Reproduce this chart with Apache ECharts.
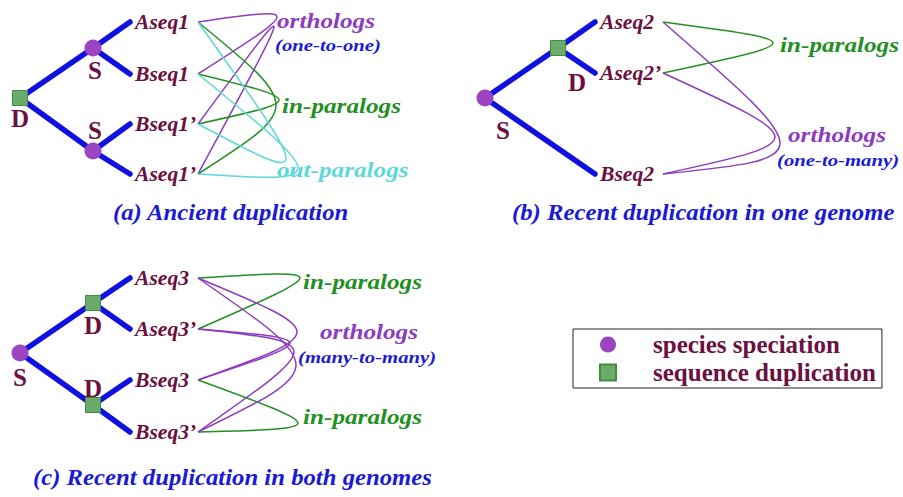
<!DOCTYPE html>
<html><head><meta charset="utf-8">
<script src="https://cdn.jsdelivr.net/npm/echarts@6/dist/echarts.min.js"></script>
<style>html,body{margin:0;padding:0;background:#fff}#c{width:903px;height:497px}</style>
</head><body><div id="c"></div>
<script>
// ---- diagram data (diagram units) ----
const speciationNodes = [['Sa1',93,48],['Sa2',93,151],['Sb',485,98],['Sc',20,353]];
const duplicationNodes = [['Da',20,98],['Db',558,48],['Dc1',93,303],['Dc2',93,405]];
const geneNodes = [
  ['Aseq1',130,22],['Bseq1',130,74],['Bseq1’',130,124],['Aseq1’',130,174],
  ['Aseq2',595,22],['Aseq2’',595,73],['Bseq2',595,174],
  ['Aseq3',130,278],['Aseq3’',130,329],['Bseq3',130,380],['Bseq3’',130,432]
];
const treeEdges = [
  ['Da','Sa1'],['Sa1','Aseq1'],['Sa1','Bseq1'],['Da','Sa2'],['Sa2','Bseq1’'],['Sa2','Aseq1’'],
  ['Sb','Db'],['Db','Aseq2'],['Db','Aseq2’'],['Sb','Bseq2'],
  ['Sc','Dc1'],['Dc1','Aseq3'],['Dc1','Aseq3’'],['Sc','Dc2'],['Dc2','Bseq3'],['Dc2','Bseq3’']
];
// [relation kind, gene, gene, tip x, tip y]
const relations = [
  ['ortholog','Aseq1','Bseq1',277,17],
  ['ortholog','Bseq1’','Aseq1’',274,27],
  ['inparalog','Aseq1','Aseq1’',276,105],
  ['inparalog','Bseq1','Bseq1’',279,100],
  ['outparalog','Aseq1','Bseq1’',286,158],
  ['outparalog','Bseq1','Aseq1’',298,168],
  ['inparalog','Aseq2','Aseq2’',773,43],
  ['ortholog','Aseq2','Bseq2',780,143],
  ['ortholog','Aseq2’','Bseq2',775,137],
  ['inparalog','Aseq3','Aseq3’',300,278],
  ['inparalog','Bseq3','Bseq3’',298,423],
  ['ortholog','Aseq3','Bseq3',297,332],
  ['ortholog','Aseq3','Bseq3’',296,365],
  ['ortholog','Aseq3’','Bseq3',290,343],
  ['ortholog','Aseq3’','Bseq3’',294,352]
];
const eventLabels = [['D',20,118],['S',95,70],['S',95,130],['D',577,82],['S',503,130],['S',20,377],['D',93,325],['D',93,388]];
const relationLabels = [
  ['orthologs','ortholog',277,21],['in-paralogs','inparalog',282,106],['out-paralogs','outparalog',277,170],
  ['in-paralogs','inparalog',780,45],['orthologs','ortholog',788,135],
  ['in-paralogs','inparalog',303,282],['orthologs','ortholog',320,332],['in-paralogs','inparalog',303,417]
];
const relationNotes = [['(one-to-one)',275,45],['(one-to-many)',777,160],['(many-to-many)',298,357]];
const panelTitles = [['(a) Ancient duplication',113,212],['(b) Recent duplication in one genome',512,212],['(c) Recent duplication in both genomes',33,477]];
const legendNames = ['species speciation','sequence duplication'];

// ---- styles ----
const relColor = {ortholog:'#8c3cbf', inparalog:'#239023', outparalog:'#5cd8d8'};
const MAROON = '#6b1040', BLUE = '#1a1ad6';
const textStyles = {
  gene:  {size:21, italic:true, color:MAROON, sx:1.03, align:'left'},
  event: {size:25, italic:false, color:MAROON, sx:1.0, align:'center'},
  note:  {size:17, italic:true, color:BLUE, sx:1.22, align:'left'},
  title: {size:24, italic:true, color:BLUE, sx:1.03, align:'left'},
  ortholog:{size:21, italic:true, color:relColor.ortholog, sx:1.2, align:'left'},
  inparalog:{size:21, italic:true, color:relColor.inparalog, sx:1.2, align:'left'},
  outparalog:{size:21, italic:true, color:relColor.outparalog, sx:1.2, align:'left'}
};

const pos = {};
[...speciationNodes, ...duplicationNodes, ...geneNodes].forEach(n => pos[n[0]] = [n[1], n[2]]);

const texts = [];
geneNodes.forEach(g => texts.push({t:g[0], x:g[1]+5, y:g[2], k:'gene'}));
eventLabels.forEach(e => texts.push({t:e[0], x:e[1], y:e[2], k:'event'}));
relationLabels.forEach(r => texts.push({t:r[0], x:r[2], y:r[3], k:r[1]}));
relationNotes.forEach(r => texts.push({t:r[0], x:r[1], y:r[2], k:'note'}));
panelTitles.forEach(r => texts.push({t:r[0], x:r[1], y:r[2], k:'title'}));

const LINK_GAP = 68; // pixel gap from leaf to curve start (label width)

const chart = echarts.init(document.getElementById('c'), null, {renderer:'svg'});
chart.setOption({
  animation:false,
  backgroundColor:'#ffffff',
  grid:{left:0,right:0,top:0,bottom:0},
  xAxis:{type:'value',min:0,max:903,show:false},
  yAxis:{type:'value',min:0,max:497,inverse:true,show:false},
  legend:{
    data:legendNames, orient:'vertical', left:573, top:329,
    padding:[3,6,3,26], itemGap:3, itemWidth:16, itemHeight:16,
    borderColor:'#222', borderWidth:1, backgroundColor:'#fff',
    textStyle:{fontFamily:'Liberation Serif', fontWeight:'bold', fontSize:25, color:MAROON, padding:[0,0,0,32]},
    selectedMode:false
  },
  series:[
    {
      type:'lines', coordinateSystem:'cartesian2d', silent:true, z:2,
      lineStyle:{color:'#1010e0', width:5.5, opacity:1, cap:'round'},
      data: treeEdges.map(e => ({coords:[pos[e[0]], pos[e[1]]]}))
    },
    {
      type:'custom', silent:true, z:3, clip:false,
      data: relations.map(r => [r[3], r[4]]),
      renderItem(params, api){
        const r = relations[params.dataIndex];
        const pa = api.coord(pos[r[1]]), pb = api.coord(pos[r[2]]);
        const pt = api.coord([r[3], r[4]]);
        const p0 = [pa[0]+LINK_GAP, pa[1]], p3 = [pb[0]+LINK_GAP, pb[1]];
        const cx = (8*pt[0]-p0[0]-p3[0])/6, cy = (8*pt[1]-p0[1]-p3[1])/6;
        return {type:'bezierCurve',
          shape:{x1:p0[0],y1:p0[1],x2:p3[0],y2:p3[1],cpx1:cx,cpy1:cy,cpx2:cx,cpy2:cy},
          style:{stroke:relColor[r[0]], fill:null, lineWidth:1.5}};
      }
    },
    {
      name:'species speciation', type:'scatter', symbol:'circle', symbolSize:17, z:5,
      itemStyle:{color:'#9b45c2', opacity:1},
      data: speciationNodes.map(n => [n[1], n[2]])
    },
    {
      name:'sequence duplication', type:'scatter', symbol:'rect', symbolSize:15, z:5,
      itemStyle:{color:'#6aaa6a', borderColor:'#3f8f3f', borderWidth:1, opacity:1},
      data: duplicationNodes.map(n => [n[1], n[2]])
    },
    {
      type:'custom', silent:true, z:6, clip:false,
      data: texts.map(t => [t.x, t.y]),
      renderItem(params, api){
        const t = texts[params.dataIndex];
        const s = textStyles[t.k];
        const p = api.coord([t.x, t.y]);
        return {type:'text', x:p[0], y:p[1], scaleX:s.sx, scaleY:1,
          style:{text:t.t, x:0, y:0, fill:s.color, align:s.align, verticalAlign:'middle',
            fontFamily:'Liberation Serif', fontWeight:'bold', fontStyle:s.italic?'italic':'normal', fontSize:s.size}};
      }
    }
  ]
});
</script></body></html>
